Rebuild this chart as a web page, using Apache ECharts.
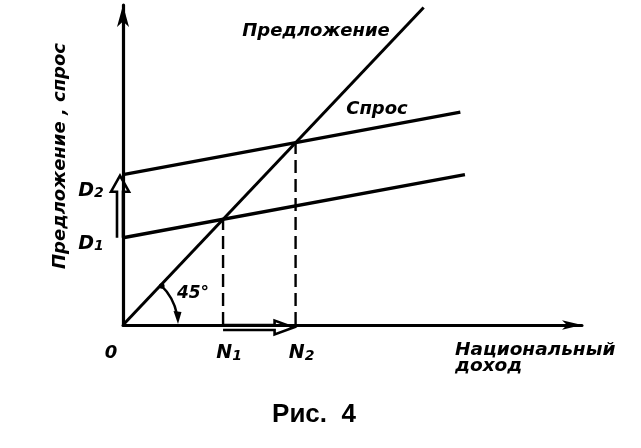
<!DOCTYPE html>
<html><head><meta charset="utf-8">
<script src="https://cdn.jsdelivr.net/npm/echarts@6/dist/echarts.min.js"></script>
<style>html,body{margin:0;padding:0;background:#fff}#c{width:641px;height:448px}</style>
</head><body><div id="c"></div>
<script>
// ---- data (schematic units) ----
const supplyLine = [[0, 0], [65.5, 65.5]];          // 45° line "Предложение"
const demand1 = [[0, 18], [74.5, 31]];              // D1
const demand2 = [[0, 31], [73.5, 43.9]];            // D2 "Спрос"
const eqN1 = [21.8, 21.8];                           // equilibrium 1
const eqN2 = [37.6, 37.6];                           // equilibrium 2
const dropN1 = [[eqN1[0], 0], eqN1];
const dropN2 = [[eqN2[0], 0], eqN2];
const shiftY = [[0, 18], [0, 31]];                   // D1 -> D2
const shiftX = [[21.8, 0], [37.6, 0]];               // N1 -> N2
const axisLabelsX = ['0', 'N1', 'N2'];
const axisLabelsXPos = [0, 21.8, 37.6];
const axisLabelsY = ['D1', 'D2'];
const axisLabelsYPos = [18, 31];

const FONT = 'DejaVu Sans';
const chart = echarts.init(document.getElementById('c'), null, {renderer: 'canvas'});

function hollowArrow(params, api, vertical) {
  const p0 = api.coord([api.value(0), api.value(1)]);
  const p1 = api.coord([api.value(2), api.value(3)]);
  let pts;
  if (vertical) {
    const cx = p0[0] - 3, sw = 3, hw = 9, hh = 16, tip = p1[1] + 1, bot = p0[1];
    pts = [[cx - sw, bot], [cx - sw, tip + hh], [cx - hw, tip + hh], [cx, tip],
           [cx + hw, tip + hh], [cx + sw, tip + hh], [cx + sw, bot]];
  } else {
    const cy = p0[1] + 2.5, sw = 2.5, hw = 7, hh = 19, tip = p1[0] - 2, left = p0[0];
    pts = [[left, cy - sw], [tip - hh, cy - sw], [tip - hh, cy - hw], [tip, cy],
           [tip - hh, cy + hw], [tip - hh, cy + sw], [left, cy + sw]];
  }
  return {type: 'polyline', shape: {points: pts},
          style: {stroke: '#000', lineWidth: 2.6, fill: null}};
}

const lineStyle = {color: '#000', width: 3.4};
const option = {
  animation: false,
  backgroundColor: '#fff',
  grid: {left: 123, right: 59, top: 5, bottom: 123},
  xAxis: {
    type: 'value', min: 0, max: 100,
    axisLine: {show: true, symbol: ['none', 'arrow'], symbolSize: [7, 20],
               lineStyle: {color: '#000', width: 3}},
    axisTick: {show: false}, axisLabel: {show: false}, splitLine: {show: false}
  },
  yAxis: {
    type: 'value', min: 0, max: 66,
    axisLine: {show: true, symbol: ['none', 'arrow'], symbolSize: [9, 22],
               lineStyle: {color: '#000', width: 3.2}},
    axisTick: {show: false}, axisLabel: {show: false}, splitLine: {show: false}
  },
  series: [
    {type: 'line', data: supplyLine, symbol: 'none', clip: false,
     lineStyle: {color: '#000', width: 3}},
    {type: 'line', data: demand1, symbol: 'none', clip: false, lineStyle},
    {type: 'line', data: demand2, symbol: 'none', clip: false, lineStyle},
    {type: 'line', data: dropN1, symbol: 'none',
     lineStyle: {color: '#000', width: 2.4, type: [13, 6]}},
    {type: 'line', data: dropN2, symbol: 'none',
     lineStyle: {color: '#000', width: 2.4, type: [13, 6]}},
    {type: 'custom', clip: false,
     data: [[shiftY[0][0], shiftY[0][1], shiftY[1][0], shiftY[1][1]]],
     renderItem: (p, api) => hollowArrow(p, api, true)},
    {type: 'custom', clip: false,
     data: [[shiftX[0][0], shiftX[0][1], shiftX[1][0], shiftX[1][1]]],
     renderItem: (p, api) => hollowArrow(p, api, false)},
    {type: 'custom', clip: false,
     data: [[supplyLine[0][0], supplyLine[0][1], supplyLine[1][0], supplyLine[1][1]]],
     renderItem: (p, api) => {
       const o = api.coord([api.value(0), api.value(1)]);
       const e = api.coord([api.value(2), api.value(3)]);
       const a = Math.atan2(e[1] - o[1], e[0] - o[0]);
       const r = 55;
       const sx = o[0] + r * Math.cos(a), sy = o[1] + r * Math.sin(a);
       return {type: 'group', children: [
         {type: 'arc', shape: {cx: o[0], cy: o[1], r: r, startAngle: a, endAngle: -0.2, clockwise: true},
          style: {stroke: '#000', lineWidth: 2.4, fill: null}},
         {type: 'circle', shape: {cx: sx + 1, cy: sy + 1, r: 2.8}, style: {fill: '#000'}},
         {type: 'polygon', shape: {points: [[o[0] + r, o[1] - 1], [o[0] + r - 4.5, o[1] - 14], [o[0] + r + 3.5, o[1] - 13]]},
          style: {fill: '#000'}}
       ]};
     }}
  ]
};
chart.setOption(option);

const it = {fontFamily: FONT, fontStyle: 'italic', fontWeight: 'bold', fill: '#000'};
function txt(text, x, y, size, extra) {
  return Object.assign({type: 'text', x: x, y: y,
    style: Object.assign({}, it, {text: text, fontSize: size, align: 'center', verticalAlign: 'middle'})}, extra || {});
}
function sub(label) {
  return '{m|' + label[0] + '}{s|' + label.slice(1) + '}';
}
const rich = {m: Object.assign({}, it, {fontSize: 19}), s: Object.assign({}, it, {fontSize: 14, padding: [6, 0, 0, 0]})};

const g = [];
axisLabelsX.forEach((lab, i) => {
  const p = chart.convertToPixel({gridIndex: 0}, [axisLabelsXPos[i], 0]);
  const dx = i === 0 ? -12 : 6;
  g.push({type: 'text', x: p[0] + dx, y: p[1] + 28,
    style: Object.assign({}, it, {text: lab.length > 1 ? sub(lab) : lab, rich: rich, fontSize: 18, align: 'center', verticalAlign: 'middle'})});
});
axisLabelsY.forEach((lab, i) => {
  const p = chart.convertToPixel({gridIndex: 0}, [0, axisLabelsYPos[i]]);
  g.push({type: 'text', x: p[0] - 32, y: p[1] + (i === 0 ? 6 : 16),
    style: Object.assign({}, it, {text: sub(lab), rich: rich, align: 'center', verticalAlign: 'middle'})});
});
g.push(txt('Предложение', 316, 31, 18));
g.push(txt('Спрос', 377, 109, 18));
g.push({type: 'text', x: 455, y: 350, style: Object.assign({}, it, {text: 'Национальный', fontSize: 18.5, align: 'left', verticalAlign: 'middle'})});
g.push({type: 'text', x: 455, y: 366, style: Object.assign({}, it, {text: 'доход', fontSize: 18.5, align: 'left', verticalAlign: 'middle'})});
g.push(txt('45°', 193, 294, 17));
g.push(txt('Предложение , спрос', 60, 156, 18, {rotation: Math.PI / 2}));
g.push({type: 'text', x: 314, y: 415, style: {text: 'Рис.  4', fontFamily: 'Liberation Sans', fontWeight: 'bold', fontSize: 26, fill: '#000', align: 'center', verticalAlign: 'middle'}});
chart.setOption({graphic: g});
</script>
</body></html>
